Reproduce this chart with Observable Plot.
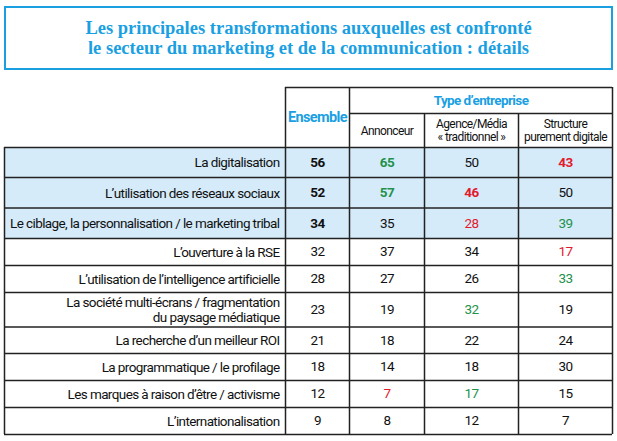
<!DOCTYPE html>
<html>
<head>
<meta charset="utf-8">
<script src="https://cdn.jsdelivr.net/npm/d3@7"></script>
<script src="https://cdn.jsdelivr.net/npm/@observablehq/plot@0.6"></script>
<style>
  html, body { margin: 0; padding: 0; background: #fff; }
  body { width: 617px; height: 441px; position: relative; overflow: hidden; }
  #title {
    position: absolute; left: 4px; top: 6px; width: 605px; height: 60px;
    border: 2px solid #1a9fe0;
    font-family: "Liberation Serif", "DejaVu Serif", serif; font-weight: bold;
    font-size: 18.5px; line-height: 20px; color: #1aa0e2; text-align: center;
    display: flex; align-items: center; justify-content: center;
  }
  #chart { position: absolute; left: 0; top: 76px; }
</style>
</head>
<body>
<div id="title"><div>Les principales transformations auxquelles est confronté<br>le secteur du marketing et de la communication : détails</div></div>
<div id="chart"></div>
<script>
// ---- data ----
const categories = [
  "La digitalisation",
  "L’utilisation des réseaux sociaux",
  "Le ciblage, la personnalisation / le marketing tribal",
  "L’ouverture à la RSE",
  "L’utilisation de l’intelligence artificielle",
  "La société multi-écrans / fragmentation\ndu paysage médiatique",
  "La recherche d’un meilleur ROI",
  "La programmatique / le profilage",
  "Les marques à raison d’être / activisme",
  "L’internationalisation"
];
const ensemble   = [56, 52, 34, 32, 28, 23, 21, 18, 12, 9];
const annonceur  = [65, 57, 35, 37, 27, 19, 18, 14, 7, 8];
const agence     = [50, 46, 28, 34, 26, 32, 22, 18, 17, 12];
const structure  = [43, 50, 39, 17, 33, 19, 24, 30, 15, 7];
// significance flags: +1 above average (green), -1 below (red)
const annonceurSig = [1, 1, 0, 0, 0, 0, 0, 0, -1, 0];
const agenceSig    = [0, -1, -1, 0, 0, 1, 0, 0, 1, 0];
const structureSig = [-1, 0, 1, -1, 1, 0, 0, 0, 0, 0];
const highlighted  = [true, true, true, false, false, false, false, false, false, false];
const headerGroup = "Type d’entreprise";
const headerEnsemble = "Ensemble";
const subHeaders = ["Annonceur", "Agence/Média\n« traditionnel »", "Structure\npurement digitale"];

// ---- layout (page pixels) ----
const colEdges = [4, 285, 349, 424, 518, 612];
const headTop = 87, subTop = 113, bodyTop = 147;
const rowHeights = [30, 30.5, 30.5, 27, 27, 34.5, 26.5, 27, 27, 27];
const rowEdges = [bodyTop];
rowHeights.forEach(h => rowEdges.push(rowEdges[rowEdges.length - 1] + h));

// detect condensed font
function pickFont() {
  const c = document.createElement("canvas").getContext("2d");
  const s = "Le ciblage, la personnalisation";
  c.font = "14px monospace"; const mono = c.measureText(s).width;
  c.font = "14px 'Liberation Sans Narrow', monospace"; const narrow = c.measureText(s).width;
  if (Math.abs(narrow - mono) > 1) return {family: "'Liberation Sans Narrow', Roboto, sans-serif", size: 14, spacing: 0};
  return {family: "Roboto, sans-serif", size: 13.5, spacing: -0.6};
}
const F = pickFont();

const rows = categories.map((c, i) => ({
  label: c, i, y1: rowEdges[i], y2: rowEdges[i + 1], ym: (rowEdges[i] + rowEdges[i + 1]) / 2,
  hl: highlighted[i]
}));

const colMid = k => (colEdges[k] + colEdges[k + 1]) / 2;
const green = "#23924a", red = "#e3192c";
const sigColor = s => s > 0 ? green : s < 0 ? red : "#111";

const cells = [];
rows.forEach((r, i) => {
  cells.push({x: colMid(1), y: r.ym, v: ensemble[i], color: "#111", bold: r.hl});
  [[annonceur, annonceurSig], [agence, agenceSig], [structure, structureSig]].forEach(([vals, sig], k) => {
    cells.push({x: colMid(k + 2), y: r.ym, v: vals[i], color: sigColor(sig[i]), bold: sig[i] !== 0 && i < 2});
  });
});

const bottomEdge = rowEdges[rowEdges.length - 1];
const hLines = [
  {y: headTop, x1: colEdges[1], x2: colEdges[5]},
  {y: subTop, x1: colEdges[2], x2: colEdges[5]},
  ...rowEdges.map(y => ({y, x1: colEdges[0], x2: colEdges[5]}))
];
const vLines = [
  {x: colEdges[0], y1: bodyTop, y2: bottomEdge},
  {x: colEdges[1], y1: headTop, y2: bottomEdge},
  {x: colEdges[2], y1: headTop, y2: bottomEdge},
  {x: colEdges[3], y1: subTop, y2: bottomEdge},
  {x: colEdges[4], y1: subTop, y2: bottomEdge},
  {x: colEdges[5], y1: headTop, y2: bottomEdge}
];
const subs = subHeaders.map((t, k) => ({t, x: colMid(k + 2), y: (subTop + bodyTop) / 2}));

const svgTop = 76, H = 441 - svgTop;
const txt = {fontFamily: F.family, fontSize: F.size};
const plot = Plot.plot({
  width: 617, height: H, margin: 0,
  x: {type: "linear", domain: [0, 617], range: [0, 617], axis: null},
  y: {type: "linear", domain: [svgTop, 441], range: [0, H], axis: null},
  style: {fontFamily: F.family, background: "white", letterSpacing: F.spacing + "px"},
  marks: [
    Plot.rect(rows.filter(r => r.hl), {x1: colEdges[0], x2: colEdges[5], y1: "y1", y2: "y2", fill: "#d5ebfa"}),
    Plot.text(rows, {x: colEdges[1] - 6, y: "ym", text: "label", textAnchor: "end", fill: "#111", lineHeight: 1.1, ...txt}),
    Plot.text(cells.filter(d => !d.bold), {x: "x", y: "y", text: "v", fill: "color", ...txt}),
    Plot.text(cells.filter(d => d.bold), {x: "x", y: "y", text: "v", fill: "color", fontWeight: "bold", ...txt}),
    Plot.text([headerEnsemble], {x: colMid(1), y: (headTop + bodyTop) / 2, text: d => d, fill: "#1aa0e2", fontWeight: "bold", fontFamily: F.family, fontSize: F.size + 1}),
    Plot.text([headerGroup], {x: (colEdges[2] + colEdges[5]) / 2, y: (headTop + subTop) / 2, text: d => d, fill: "#1aa0e2", fontWeight: "bold", fontFamily: F.family, fontSize: F.size}),
    Plot.text(subs, {x: "x", y: "y", text: "t", fill: "#111", lineHeight: 1.1, fontFamily: F.family, fontSize: F.size - 1.5}),
    Plot.ruleY(hLines, {y: "y", x1: "x1", x2: "x2", stroke: "#222", strokeWidth: 1.5}),
    Plot.ruleX(vLines, {x: "x", y1: "y1", y2: "y2", stroke: "#222", strokeWidth: 1.5})
  ]
});
document.getElementById("chart").appendChild(plot);
</script>
</body>
</html>
